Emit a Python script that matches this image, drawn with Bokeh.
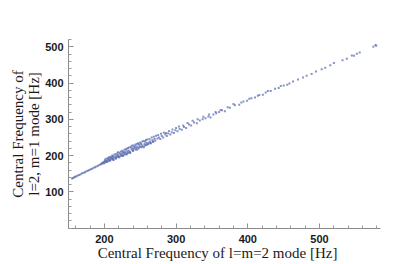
from bokeh.plotting import figure
from bokeh.models import Range1d, FixedTicker, Label
from bokeh.embed import file_html
from bokeh.resources import INLINE

# ---- data ----
f22 = [155, 156.5, 158, 159.5, 161, 163, 165, 167, 169, 171, 173, 175, 177, 179, 181, 183, 185, 187, 189, 191, 193, 195,
       196, 197, 198, 199, 200, 201, 202, 203, 204, 205, 206, 207, 208, 209, 210, 211, 212, 213, 214, 215, 216, 217, 218,
       219, 220, 221, 222, 223, 224, 225, 226, 227, 228, 229, 230, 231, 232, 233, 234, 235, 236, 238, 239, 240, 241, 242,
       244, 245, 246, 247, 249, 250, 252, 253, 255, 256, 258, 259, 261, 262, 264, 265, 267, 268, 270, 271,
       274, 276, 278, 280, 282, 285, 287, 289, 292, 294, 297, 299, 302, 305, 308, 311, 314, 318, 321, 325, 329, 333, 337,
       341, 345, 348, 352, 356, 360, 364, 368,
       375, 382, 388, 394, 399, 405, 410, 416, 421, 425, 432, 438, 443, 450, 458, 463, 470, 477, 489, 503, 508, 515, 532,
       538, 548, 552, 575, 579,
       201, 203, 205, 207, 209, 211, 212, 214, 216, 218, 219, 221, 223, 225, 226, 228, 230, 231, 233, 235, 237, 238, 240,
       242, 243, 245, 247, 248, 250, 251, 253, 255, 257, 258, 260, 263, 266, 269, 272, 275, 279, 283, 286, 290, 295, 300,
       304, 310, 316, 323, 330, 338, 346, 355, 362, 372, 380, 391, 402, 414, 428, 446, 455, 482, 495, 520, 545, 556, 578,
       200, 204, 208, 212, 216, 220, 224, 228, 232, 236, 240, 244, 248, 252, 256, 260, 264, 268]
f21 = [137, 138.5, 140.5, 141.5, 143, 145, 146.5, 148.5, 151, 152.5, 154, 156.5, 158, 160.5, 162, 164, 166.5, 168, 170, 172, 174, 176,
       177, 180, 179, 183, 181, 185, 182, 186, 184, 189, 186, 191, 188, 193, 190, 195, 192, 188, 197, 194, 191, 199, 196,
       201, 198, 195, 204, 200, 206, 202, 199, 208, 204, 210, 206, 203, 212, 208, 214, 210, 207, 216, 220, 213, 218, 223,
       220, 225, 217, 222, 228, 224, 230, 226, 223, 232, 229, 235, 232, 236, 239, 234, 242, 238, 246, 241,
       247, 250, 246, 254, 250, 258, 254, 261, 258, 264, 262, 270, 267, 273, 271, 279, 276, 286, 283, 291, 289, 297, 300,
       303, 308, 305, 313, 317, 320, 325, 322,
       332, 339, 340, 349, 351, 358, 360, 367, 368, 374, 378, 384, 386, 393, 399, 404, 410, 415, 425, 438, 442, 449, 463,
       467, 475, 481, 500, 503,
       189, 191, 193, 196, 197, 200, 198, 203, 204, 206, 209, 208, 211, 213, 210, 216, 217, 219, 221, 223, 222, 227, 228,
       225, 230, 232, 234, 231, 236, 233, 239, 240, 238, 243, 244, 246, 250, 252, 255, 257, 260, 263, 262, 268, 272, 276,
       280, 283, 290, 296, 300, 307, 313, 320, 326, 333, 342, 346, 357, 365, 378, 392, 395, 420, 432, 455, 476, 484, 505,
       179, 183, 186, 189, 193, 196, 199, 203, 206, 209, 213, 216, 220, 223, 227, 230, 234, 238]

x_major = [200, 300, 400, 500]
y_major = [100, 200, 300, 400, 500]

x_title = "Central Frequency of l=m=2 mode [Hz]"
y_title = "Central Frequency of\nl=2, m=1 mode [Hz]"

p = figure(width=409, height=264, output_backend="svg", toolbar_location=None,
           x_range=Range1d(150, 585), y_range=Range1d(-1, 520),
           min_border_left=68, min_border_right=29, min_border_top=39, min_border_bottom=36)
p.outline_line_color = None
p.xgrid.grid_line_color = None
p.ygrid.grid_line_color = None
p.background_fill_color = "white"

p.scatter(f22, f21, marker="square", size=2, color="#5466ac", alpha=0.7, line_width=0)

p.xaxis[0].ticker = FixedTicker(ticks=x_major, minor_ticks=list(range(160, 585, 20)))
p.yaxis[0].ticker = FixedTicker(ticks=y_major, minor_ticks=list(range(0, 521, 20)))

for ax in (p.xaxis[0], p.yaxis[0]):
    ax.axis_line_color = "#8a8a8a"
    ax.major_tick_line_color = "#8a8a8a"
    ax.minor_tick_line_color = "#9a9a9a"
    ax.major_tick_in = 5
    ax.major_tick_out = 0
    ax.minor_tick_in = 3
    ax.minor_tick_out = 0
    ax.major_label_text_font = "Liberation Sans"
    ax.major_label_text_font_style = "bold"
    ax.major_label_text_font_size = "11px"
    ax.major_label_text_color = "#1a1a1a"
    ax.axis_label_text_font = "Liberation Serif"
    ax.axis_label_text_font_style = "normal"
    ax.axis_label_text_font_size = "15px"
    ax.axis_label_text_color = "#1a1a1a"
    ax.axis_label_text_line_height = 1.0
p.xaxis[0].major_label_standoff = 6
p.yaxis[0].major_label_standoff = 5
p.yaxis[0].axis_label_standoff = 0
p.yaxis[0].axis_label = y_title

p.add_layout(Label(x=357.8, y=-69.9, text=x_title, text_font="Liberation Serif",
                   text_font_size="15px", text_color="#1a1a1a",
                   text_align="center", text_baseline="middle"), "below")

open("out.html", "w").write(file_html(p, INLINE))
